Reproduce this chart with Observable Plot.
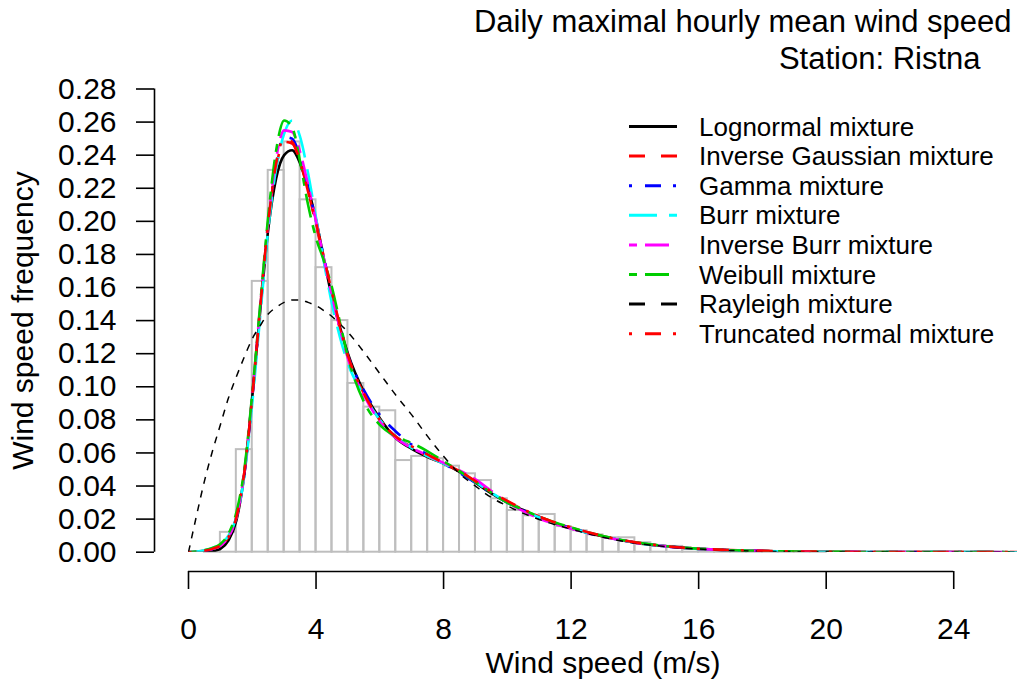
<!DOCTYPE html>
<html><head><meta charset="utf-8">
<script src="https://cdn.jsdelivr.net/npm/d3@7"></script>
<script src="https://cdn.jsdelivr.net/npm/@observablehq/plot@0.6"></script>
<style>
body{margin:0;background:#fff;}
#wrap{position:relative;width:1017px;height:684px;font-family:'Liberation Sans',Arial,Helvetica,sans-serif;}
</style>
</head><body><div id="wrap"></div>
<script>
// ---- Data ----
const titleLines = ["Daily maximal hourly mean wind speed", "Station: Ristna"];
const xLabel = "Wind speed (m/s)";
const yLabel = "Wind speed frequency";
const xTicks = [0, 4, 8, 12, 16, 20, 24];
const yTicks = [0, 0.02, 0.04, 0.06, 0.08, 0.10, 0.12, 0.14, 0.16, 0.18, 0.20, 0.22, 0.24, 0.26, 0.28];

// histogram (bin start, width 0.5)
const binStart = [0,0.5,1,1.5,2,2.5,3,3.5,4,4.5,5,5.5,6,6.5,7,7.5,8,8.5,9,9.5,10,10.5,11,11.5,12,12.5,13,13.5,14,14.5,15,15.5,16,16.5,17,17.5,18,18.5,19,19.5,20,20.5,21,21.5,22,22.5,23,23.5];
const binHeight = [0,0.0005,0.012,0.062,0.1637,0.2308,0.248,0.213,0.172,0.140,0.102,0.0877,0.0855,0.0554,0.0579,0.0565,0.052,0.0474,0.0433,0.0323,0.0252,0.022,0.0228,0.0155,0.013,0.0105,0.0087,0.0087,0.0057,0.0036,0.0035,0.002,0.0015,0.001,0.0008,0.0006,0.0004,0.0003,0.0003,0.0002,0,0,0,0,0,0,0,0];

// fitted densities, evaluated at xs
const xs = [0,0.25,0.5,0.75,1,1.25,1.5,1.75,2,2.25,2.5,2.75,3,3.25,3.5,3.75,4,4.25,4.5,4.75,5,5.5,6,6.5,7,7.5,8,8.5,9,9.5,10,10.5,11,11.5,12,12.5,13,13.5,14,15,16,17,18,20,22,24,26];
const lognormal = [0,0.0001,0.0002,0.0006,0.002,0.007,0.019,0.047,0.094,0.146,0.195,
  0.226,0.240,0.243,0.235,0.220,0.201,0.177,0.154,0.136,0.120,
  0.097,0.081,0.069,0.0625,0.0575,0.0535,0.0485,0.042,0.0355,0.030,0.0255,0.021,0.0175,0.0145,0.0118,0.0095,0.0075,0.0058,
  0.0035,0.002,0.0012,0.0007,0.00025,0.0001,0.00004,0.00001];
const invGaussian = [0,0.0003,0.001,0.002,0.004,0.009,0.021,0.048,0.094,0.148,0.199,
  0.233,0.248,0.247,0.236,0.218,0.198,0.176,0.154,0.135,0.118,
  0.096,0.080,0.070,0.0635,0.058,0.0535,0.049,0.043,0.0362,0.0305,0.0258,0.0215,0.0178,0.0148,0.012,0.0097,0.0077,0.006,
  0.0036,0.0021,0.0013,0.0008,0.0003,0.0001,0.00005,0.00002];
const gammaMix = [0,0.0003,0.001,0.002,0.004,0.009,0.021,0.047,0.093,0.147,0.198,
  0.235,0.251,0.250,0.239,0.221,0.200,0.178,0.156,0.136,0.119,
  0.098,0.083,0.073,0.065,0.059,0.0535,0.048,0.042,0.0357,0.030,0.0253,0.021,0.0175,0.0146,0.0119,0.0096,0.0076,0.0059,
  0.0035,0.002,0.0012,0.0007,0.00025,0.0001,0.00004,0.00001];
const burr = [0,0.0004,0.0012,0.0025,0.005,0.01,0.021,0.046,0.090,0.143,0.195,
  0.232,0.253,0.261,0.251,0.229,0.202,0.175,0.150,0.130,0.114,
  0.095,0.080,0.070,0.063,0.058,0.0535,0.0488,0.0425,0.036,0.0302,0.0255,0.021,0.0175,0.0145,0.0118,0.0095,0.0075,0.0058,
  0.0035,0.002,0.0012,0.0007,0.00025,0.0001,0.00004,0.00001];
const invBurr = [0,0.0003,0.001,0.002,0.004,0.009,0.021,0.048,0.095,0.149,0.200,
  0.238,0.255,0.254,0.242,0.222,0.200,0.177,0.155,0.135,0.117,
  0.095,0.079,0.069,0.063,0.0585,0.054,0.0495,0.044,0.037,0.030,0.0248,0.0203,0.017,0.0142,0.0116,0.0094,0.0075,0.0058,
  0.0035,0.002,0.0012,0.0007,0.00025,0.0001,0.00004,0.00001];
const weibull = [0,0.0004,0.0012,0.0025,0.005,0.011,0.024,0.050,0.096,0.150,0.203,
  0.243,0.261,0.257,0.236,0.210,0.190,0.176,0.160,0.139,0.118,
  0.091,0.077,0.070,0.066,0.061,0.055,0.049,0.0425,0.036,0.030,0.0256,0.0215,0.018,0.015,0.0122,0.0098,0.0077,0.006,
  0.0036,0.0021,0.0012,0.0007,0.00025,0.0001,0.00004,0.00001];
const rayleigh = [0,0.022,0.043,0.061,0.077,0.093,0.106,0.118,0.129,0.137,0.144,
  0.148,0.151,0.1525,0.1525,0.151,0.149,0.146,0.1425,0.138,0.133,
  0.121,0.108,0.095,0.083,0.070,0.058,0.0475,0.040,0.033,0.028,0.0235,0.0198,0.0166,0.014,0.0113,0.009,0.0071,0.0055,
  0.0033,0.0019,0.0011,0.0006,0.0002,0.00006,0.00002,0];
const truncNormal = [0,0.0002,0.0008,0.002,0.004,0.009,0.021,0.048,0.094,0.148,0.199,
  0.235,0.250,0.248,0.236,0.218,0.199,0.178,0.157,0.137,0.119,
  0.096,0.080,0.070,0.064,0.059,0.054,0.049,0.043,0.0365,0.031,0.026,0.0215,0.018,0.015,0.0122,0.0098,0.0077,0.006,
  0.0036,0.0021,0.0013,0.0008,0.0003,0.0001,0.00005,0.00002];

const seriesNames = ["Lognormal mixture","Inverse Gaussian mixture","Gamma mixture","Burr mixture","Inverse Burr mixture","Weibull mixture","Rayleigh mixture","Truncated normal mixture"];
const seriesValues = [lognormal, invGaussian, gammaMix, burr, invBurr, weibull, rayleigh, truncNormal];
const seriesColors = ["#000000","#FF0000","#0000FF","#00FFFF","#FF00FF","#00CD00","#000000","#FF0000"];
const seriesDash = [null,"16,16","3,13,16,12","28,12","8,8,24,8","8,8,24,8","16,16","3,13,16,12"];
const curveDash = [null,"16,16","3,13,16,12","28,12","8,8,24,8","8,8,24,8","7,7","3,13,16,12"];
const curveWidth = [2.6,2.6,2.6,2.6,2.6,2.6,1.5,2.6];

// ---- Build ----
const bins = binStart.map((b, i) => ({x1: b, x2: b + 0.5, h: binHeight[i]}));
const lineMarks = seriesValues.map((vals, k) =>
  Plot.line(xs.map((x, i) => ({x, y: vals[i]})), {
    x: "x", y: "y", stroke: seriesColors[k], strokeWidth: curveWidth[k],
    strokeDasharray: curveDash[k], strokeLinecap: "butt", curve: "monotone-x", clip: true
  })
);

const FONT = "'Liberation Sans', Arial, Helvetica, sans-serif";
const chart = Plot.plot({
  width: 1017, height: 684,
  marginLeft: 188, marginRight: 0, marginTop: 88.5, marginBottom: 132.3,
  x: {domain: [0, 26], axis: null},
  y: {domain: [0, 0.28], axis: null},
  style: {fontFamily: FONT, fontSize: "30px", color: "black", background: "white", overflow: "visible"},
  marks: [
    Plot.rectY(bins, {x1: "x1", x2: "x2", y: "h", fill: "none", stroke: "#BEBEBE", strokeWidth: 2}),
    ...lineMarks,
    Plot.ruleX([0], {y1: 0, y2: 0.28, dx: -34, stroke: "black", strokeWidth: 1.6}),
    Plot.axisY({ticks: yTicks, tickSize: 18, tickPadding: 20, dx: -34, tickFormat: d => d.toFixed(2), fontSize: 30, strokeWidth: 1.6, label: null}),
    Plot.ruleY([0], {x1: 0, x2: 24, dy: 19.3, stroke: "black", strokeWidth: 1.6}),
    Plot.axisX({ticks: xTicks, tickSize: 18, tickPadding: 28, dy: 19.3, tickFormat: d => String(d), fontSize: 30, strokeWidth: 1.6, label: null}),
    Plot.text([xLabel], {frameAnchor: "bottom", lineAnchor: "middle", textAnchor: "middle", dy: 111, fontSize: 30}),
    Plot.text([yLabel], {frameAnchor: "left", lineAnchor: "middle", textAnchor: "middle", dx: -165, rotate: -90, fontSize: 30}),
    Plot.text([titleLines[0]], {frameAnchor: "top-right", lineAnchor: "middle", textAnchor: "end", dx: -6, dy: -66.5, fontSize: 31}),
    Plot.text([titleLines[1]], {frameAnchor: "top-right", lineAnchor: "middle", textAnchor: "end", dx: -37, dy: -29.5, fontSize: 31})
  ]
});
document.getElementById("wrap").appendChild(chart);

// ---- Legend overlay ----
const leg = d3.select("#wrap").append("svg")
  .attr("width", 1017).attr("height", 684)
  .style("position", "absolute").style("left", "0px").style("top", "0px")
  .style("font-family", FONT);
seriesNames.forEach((name, i) => {
  const cy = 126.5 + i * 29.6;
  leg.append("line").attr("x1", 629).attr("x2", 677).attr("y1", cy).attr("y2", cy)
    .attr("stroke", seriesColors[i]).attr("stroke-width", 3)
    .attr("stroke-dasharray", seriesDash[i]);
  leg.append("text").attr("x", 699).attr("y", cy).attr("dy", "0.35em")
    .attr("font-size", 26).attr("fill", "black").text(name);
});
</script>
</body></html>
